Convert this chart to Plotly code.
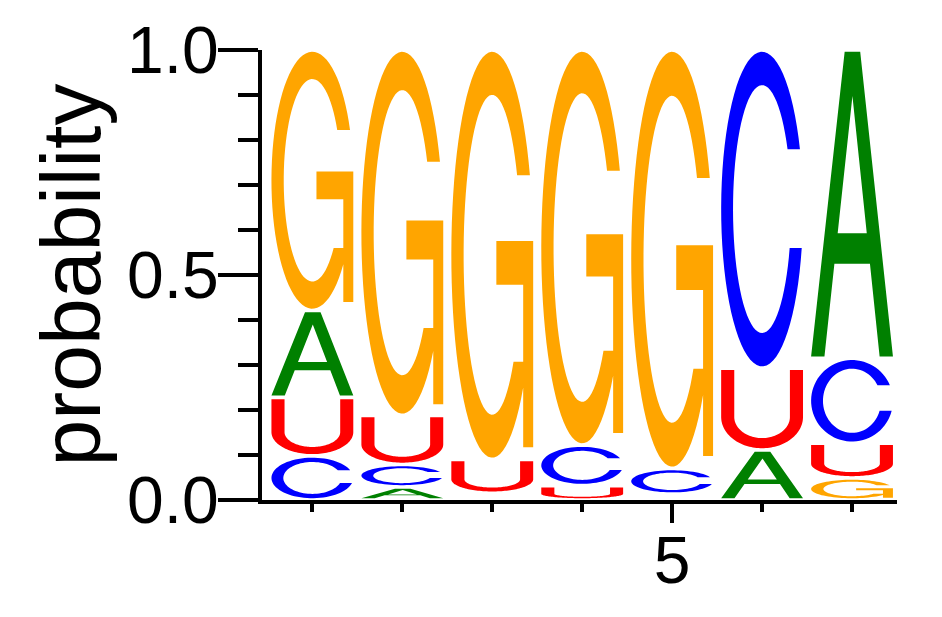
import math
import plotly.graph_objects as go

# ---- data -------------------------------------------------------------
positions = [1, 2, 3, 4, 5, 6, 7]
prob_A = [0.193, 0.029, 0.000, 0.000, 0.000, 0.111, 0.685]
prob_C = [0.098, 0.050, 0.015, 0.090, 0.057, 0.707, 0.189]
prob_G = [0.579, 0.812, 0.910, 0.878, 0.930, 0.000, 0.049]
prob_U = [0.130, 0.109, 0.075, 0.032, 0.013, 0.182, 0.077]
y_tick_vals = [0.0, 0.5, 1.0]
y_tick_text = ["0.0", "0.5", "1.0"]
x_tick_vals = [5]
x_tick_text = ["5"]

COLORS = {"A": "#008000", "C": "#0000FF", "G": "#FFA500", "U": "#FF0000"}
FONT = "Liberation Sans, Arial, sans-serif"

# ---- glyph outlines in a unit box -----------------------------------
def arc(cx, cy, rx, ry, a0, a1, n=70):
    pts = []
    for i in range(n + 1):
        a = math.radians(a0 + (a1 - a0) * i / n)
        pts.append((cx + rx * math.cos(a), cy + ry * math.sin(a)))
    return pts


def glyph_C():
    tx, ty = 0.145, 0.106
    rix, riy = 0.5 - tx, 0.5 - ty
    yt, yb = 0.69, 0.376
    ao1 = math.degrees(math.asin((yt - 0.5) / 0.5))
    ao2 = 360 + math.degrees(math.asin((yb - 0.5) / 0.5))
    ai1 = math.degrees(math.asin((yt - 0.5) / riy))
    ai2 = 360 + math.degrees(math.asin((yb - 0.5) / riy))
    pts = arc(0.5, 0.5, 0.5, 0.5, ao1, ao2) + arc(0.5, 0.5, rix, riy, ai2, ai1)
    return [pts]


def glyph_G():
    tx, ty = 0.15, 0.106
    rix, riy = 0.5 - tx, 0.5 - ty
    yt = 0.696
    stem_x = 0.878
    ao1 = math.degrees(math.asin((yt - 0.5) / 0.5))
    ao2 = 360 - math.degrees(math.acos((stem_x - 0.5) / 0.5))
    ai1 = math.degrees(math.asin((yt - 0.5) / riy))
    a_join = 318.0
    y_join = 0.5 + riy * math.sin(math.radians(a_join))
    pts = arc(0.5, 0.5, 0.5, 0.5, ao1, ao2)
    pts += [(stem_x, 0.026), (1.0, 0.026), (1.0, 0.534), (0.55, 0.534),
            (0.55, 0.426), (stem_x, 0.426), (stem_x, y_join)]
    pts += arc(0.5, 0.5, rix, riy, a_join, ai1)
    return [pts]


def glyph_U():
    tx, ty, r = 0.16, 0.13, 0.40
    pts = [(0, 1)] + arc(0.5, r, 0.5, r, 180, 360) + [(1, 1), (1 - tx, 1)]
    pts += arc(0.5, r, 0.5 - tx, r - ty, 360, 180) + [(tx, 1)]
    return [pts]


def glyph_A():
    def on_line(p, q, y):
        return p[0] + (q[0] - p[0]) * (y - p[1]) / (q[1] - p[1])
    apex = (0.505, 0.855)
    lf, rf = (0.163, 0.0), (0.837, 0.0)
    y1, y2 = 0.304, 0.404
    outer = [(0, 0), (0.41, 1), (0.60, 1), (1, 0), rf,
             (on_line(rf, apex, y1), y1), (on_line(lf, apex, y1), y1), lf]
    hole = [(on_line(lf, apex, y2), y2), apex, (on_line(rf, apex, y2), y2)]
    return [outer, hole]


GLYPHS = {"A": glyph_A(), "C": glyph_C(), "G": glyph_G(), "U": glyph_U()}

HALF_W = 0.455
INSET = 0.004
MIN_DRAW = 0.02


def letter_path(letter, xc, y0, h):
    parts = []
    x_left = xc - HALF_W
    y_b = y0 + INSET
    hh = h - 2 * INSET
    for poly in GLYPHS[letter]:
        seg = []
        for i, (u, v) in enumerate(poly):
            X = x_left + u * 2 * HALF_W
            Y = y_b + v * hh
            seg.append(("M" if i == 0 else "L") + f"{X:.5f},{Y:.5f}")
        parts.append(" ".join(seg) + " Z")
    return " ".join(parts)


shapes = []
table = {"A": prob_A, "C": prob_C, "G": prob_G, "U": prob_U}
for i, pos in enumerate(positions):
    col = sorted(((table[k][i], k) for k in table), key=lambda t: t[0])
    base = 0.0
    for val, k in col:
        if val >= MIN_DRAW:
            shapes.append(dict(type="path", xref="x", yref="y",
                               path=letter_path(k, pos, base, val),
                               fillcolor=COLORS[k], fillrule="evenodd",
                               line=dict(width=0), layer="above"))
        base += val

fig = go.Figure()
fig.add_trace(go.Scatter(x=positions, y=[0] * len(positions), mode="markers",
                         marker=dict(opacity=0), hoverinfo="skip",
                         showlegend=False))

fig.update_layout(
    width=934, height=609,
    margin=dict(l=254, r=45, t=42, b=117, autoexpand=False),
    paper_bgcolor="white", plot_bgcolor="white",
    shapes=shapes,
    showlegend=False,
    xaxis=dict(range=[0.44, 7.5], showgrid=False, zeroline=False,
               showline=True, linecolor="black", linewidth=4,
               ticks="outside", tickvals=x_tick_vals, ticktext=x_tick_text,
               ticklen=19, tickwidth=4, tickcolor="black",
               ticklabelstandoff=-19,
               tickfont=dict(family=FONT, size=66, color="black"),
               minor=dict(tickvals=positions, ticks="outside", ticklen=8,
                          tickwidth=4, tickcolor="black")),
    yaxis=dict(range=[0, 1], showgrid=False, zeroline=False,
               showline=True, linecolor="black", linewidth=4,
               ticks="outside", tickvals=y_tick_vals, ticktext=y_tick_text,
               ticklen=40, tickwidth=4, tickcolor="black",
               ticklabelstandoff=-14,
               tickfont=dict(family=FONT, size=66, color="black"),
               minor=dict(dtick=0.1, tick0=0, ticks="outside", ticklen=20,
                          tickwidth=4, tickcolor="black"),
               title=dict(text="probability",
                          font=dict(family=FONT, size=84, color="black"),
                          standoff=0)),
)

fig.write_html("out.html")
